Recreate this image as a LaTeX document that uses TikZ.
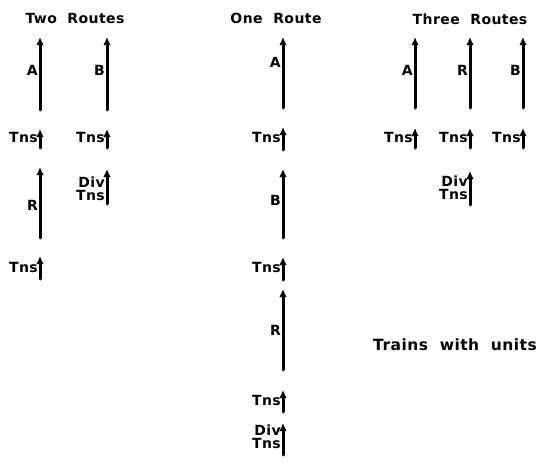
\documentclass[tikz,border=0pt]{standalone}
\usepackage{fontspec}
\setmainfont{DejaVu Sans}[LetterSpace=3,WordSpace=2]
\usetikzlibrary{arrows.meta}
\begin{document}
\begin{tikzpicture}[x=1pt,y=-1pt,
  flow/.style={line width=3pt,line cap=round,-{Latex[width=7.5pt,length=8pt]}},
  lbl/.style={font=\fontsize{14}{13}\selectfont\bfseries,inner sep=0.5pt,anchor=east,align=right},
  ttl/.style={font=\fontsize{14}{14}\selectfont\bfseries,inner sep=0pt}]
\useasboundingbox (0,0) rectangle (547,469);
% titles
\node[ttl] (t2) at (75,18) {Two Routes};
\node[ttl] (t1) at (276,18) {One Route};
\node[ttl] (t3) at (470,19) {Three Routes};
\node[ttl,font=\fontsize{15.5}{15}\selectfont\bfseries] (tw) at (455,345) {Trains with units};
% ---------- Two Routes ----------
\coordinate (a2s) at (40,110); \coordinate (a2e) at (40,37);
\draw[flow] (a2s) -- (a2e);
\node[lbl] (la2) at (38.5,70) {A};
\coordinate (b2s) at (107,110); \coordinate (b2e) at (107,37);
\draw[flow] (b2s) -- (b2e);
\node[lbl] (lb2) at (105.5,70) {B};
\coordinate (ta2s) at (40,148); \coordinate (ta2e) at (40,129);
\draw[flow] (ta2s) -- (ta2e);
\node[lbl] (lta2) at (38.5,137) {Tns};
\coordinate (tb2s) at (107,148); \coordinate (tb2e) at (107,129);
\draw[flow] (tb2s) -- (tb2e);
\node[lbl] (ltb2) at (105.5,137) {Tns};
\coordinate (r2s) at (40,238); \coordinate (r2e) at (40,167);
\draw[flow] (r2s) -- (r2e);
\node[lbl] (lr2) at (38.5,205) {R};
\coordinate (d2s) at (107,204); \coordinate (d2e) at (107,169);
\draw[flow] (d2s) -- (d2e);
\node[lbl] (ld2) at (105.5,189) {Div\\Tns};
\coordinate (tr2s) at (40,279); \coordinate (tr2e) at (40,256);
\draw[flow] (tr2s) -- (tr2e);
\node[lbl] (ltr2) at (38.5,267) {Tns};
% ---------- One Route ----------
\coordinate (a1s) at (283,108); \coordinate (a1e) at (283,37);
\draw[flow] (a1s) -- (a1e);
\node[lbl] (la1) at (281.5,62) {A};
\coordinate (ta1s) at (283,150); \coordinate (ta1e) at (283,127);
\draw[flow] (ta1s) -- (ta1e);
\node[lbl] (lta1) at (281.5,137) {Tns};
\coordinate (b1s) at (283,238); \coordinate (b1e) at (283,169);
\draw[flow] (b1s) -- (b1e);
\node[lbl] (lb1) at (281.5,200) {B};
\coordinate (tb1s) at (283,280); \coordinate (tb1e) at (283,257);
\draw[flow] (tb1s) -- (tb1e);
\node[lbl] (ltb1) at (281.5,267) {Tns};
\coordinate (r1s) at (283,370); \coordinate (r1e) at (283,289);
\draw[flow] (r1s) -- (r1e);
\node[lbl] (lr1) at (281.5,330) {R};
\coordinate (tr1s) at (283,412); \coordinate (tr1e) at (283,390);
\draw[flow] (tr1s) -- (tr1e);
\node[lbl] (ltr1) at (281.5,400) {Tns};
\coordinate (d1s) at (283,455); \coordinate (d1e) at (283,423);
\draw[flow] (d1s) -- (d1e);
\node[lbl] (ld1) at (281.5,437) {Div\\Tns};
% ---------- Three Routes ----------
\coordinate (a3s) at (415,108); \coordinate (a3e) at (415,37);
\draw[flow] (a3s) -- (a3e);
\node[lbl] (la3) at (413.5,70) {A};
\coordinate (r3s) at (470,108); \coordinate (r3e) at (470,37);
\draw[flow] (r3s) -- (r3e);
\node[lbl] (lr3) at (468.5,70) {R};
\coordinate (b3s) at (523,108); \coordinate (b3e) at (523,37);
\draw[flow] (b3s) -- (b3e);
\node[lbl] (lb3) at (521.5,70) {B};
\coordinate (ta3s) at (415,148); \coordinate (ta3e) at (415,128);
\draw[flow] (ta3s) -- (ta3e);
\node[lbl] (lta3) at (413.5,137) {Tns};
\coordinate (tr3s) at (470,148); \coordinate (tr3e) at (470,128);
\draw[flow] (tr3s) -- (tr3e);
\node[lbl] (ltr3) at (468.5,137) {Tns};
\coordinate (tb3s) at (523,148); \coordinate (tb3e) at (523,128);
\draw[flow] (tb3s) -- (tb3e);
\node[lbl] (ltb3) at (521.5,137) {Tns};
\coordinate (d3s) at (470,205); \coordinate (d3e) at (470,171);
\draw[flow] (d3s) -- (d3e);
\node[lbl] (ld3) at (468.5,188) {Div\\Tns};
\end{tikzpicture}
\end{document}
